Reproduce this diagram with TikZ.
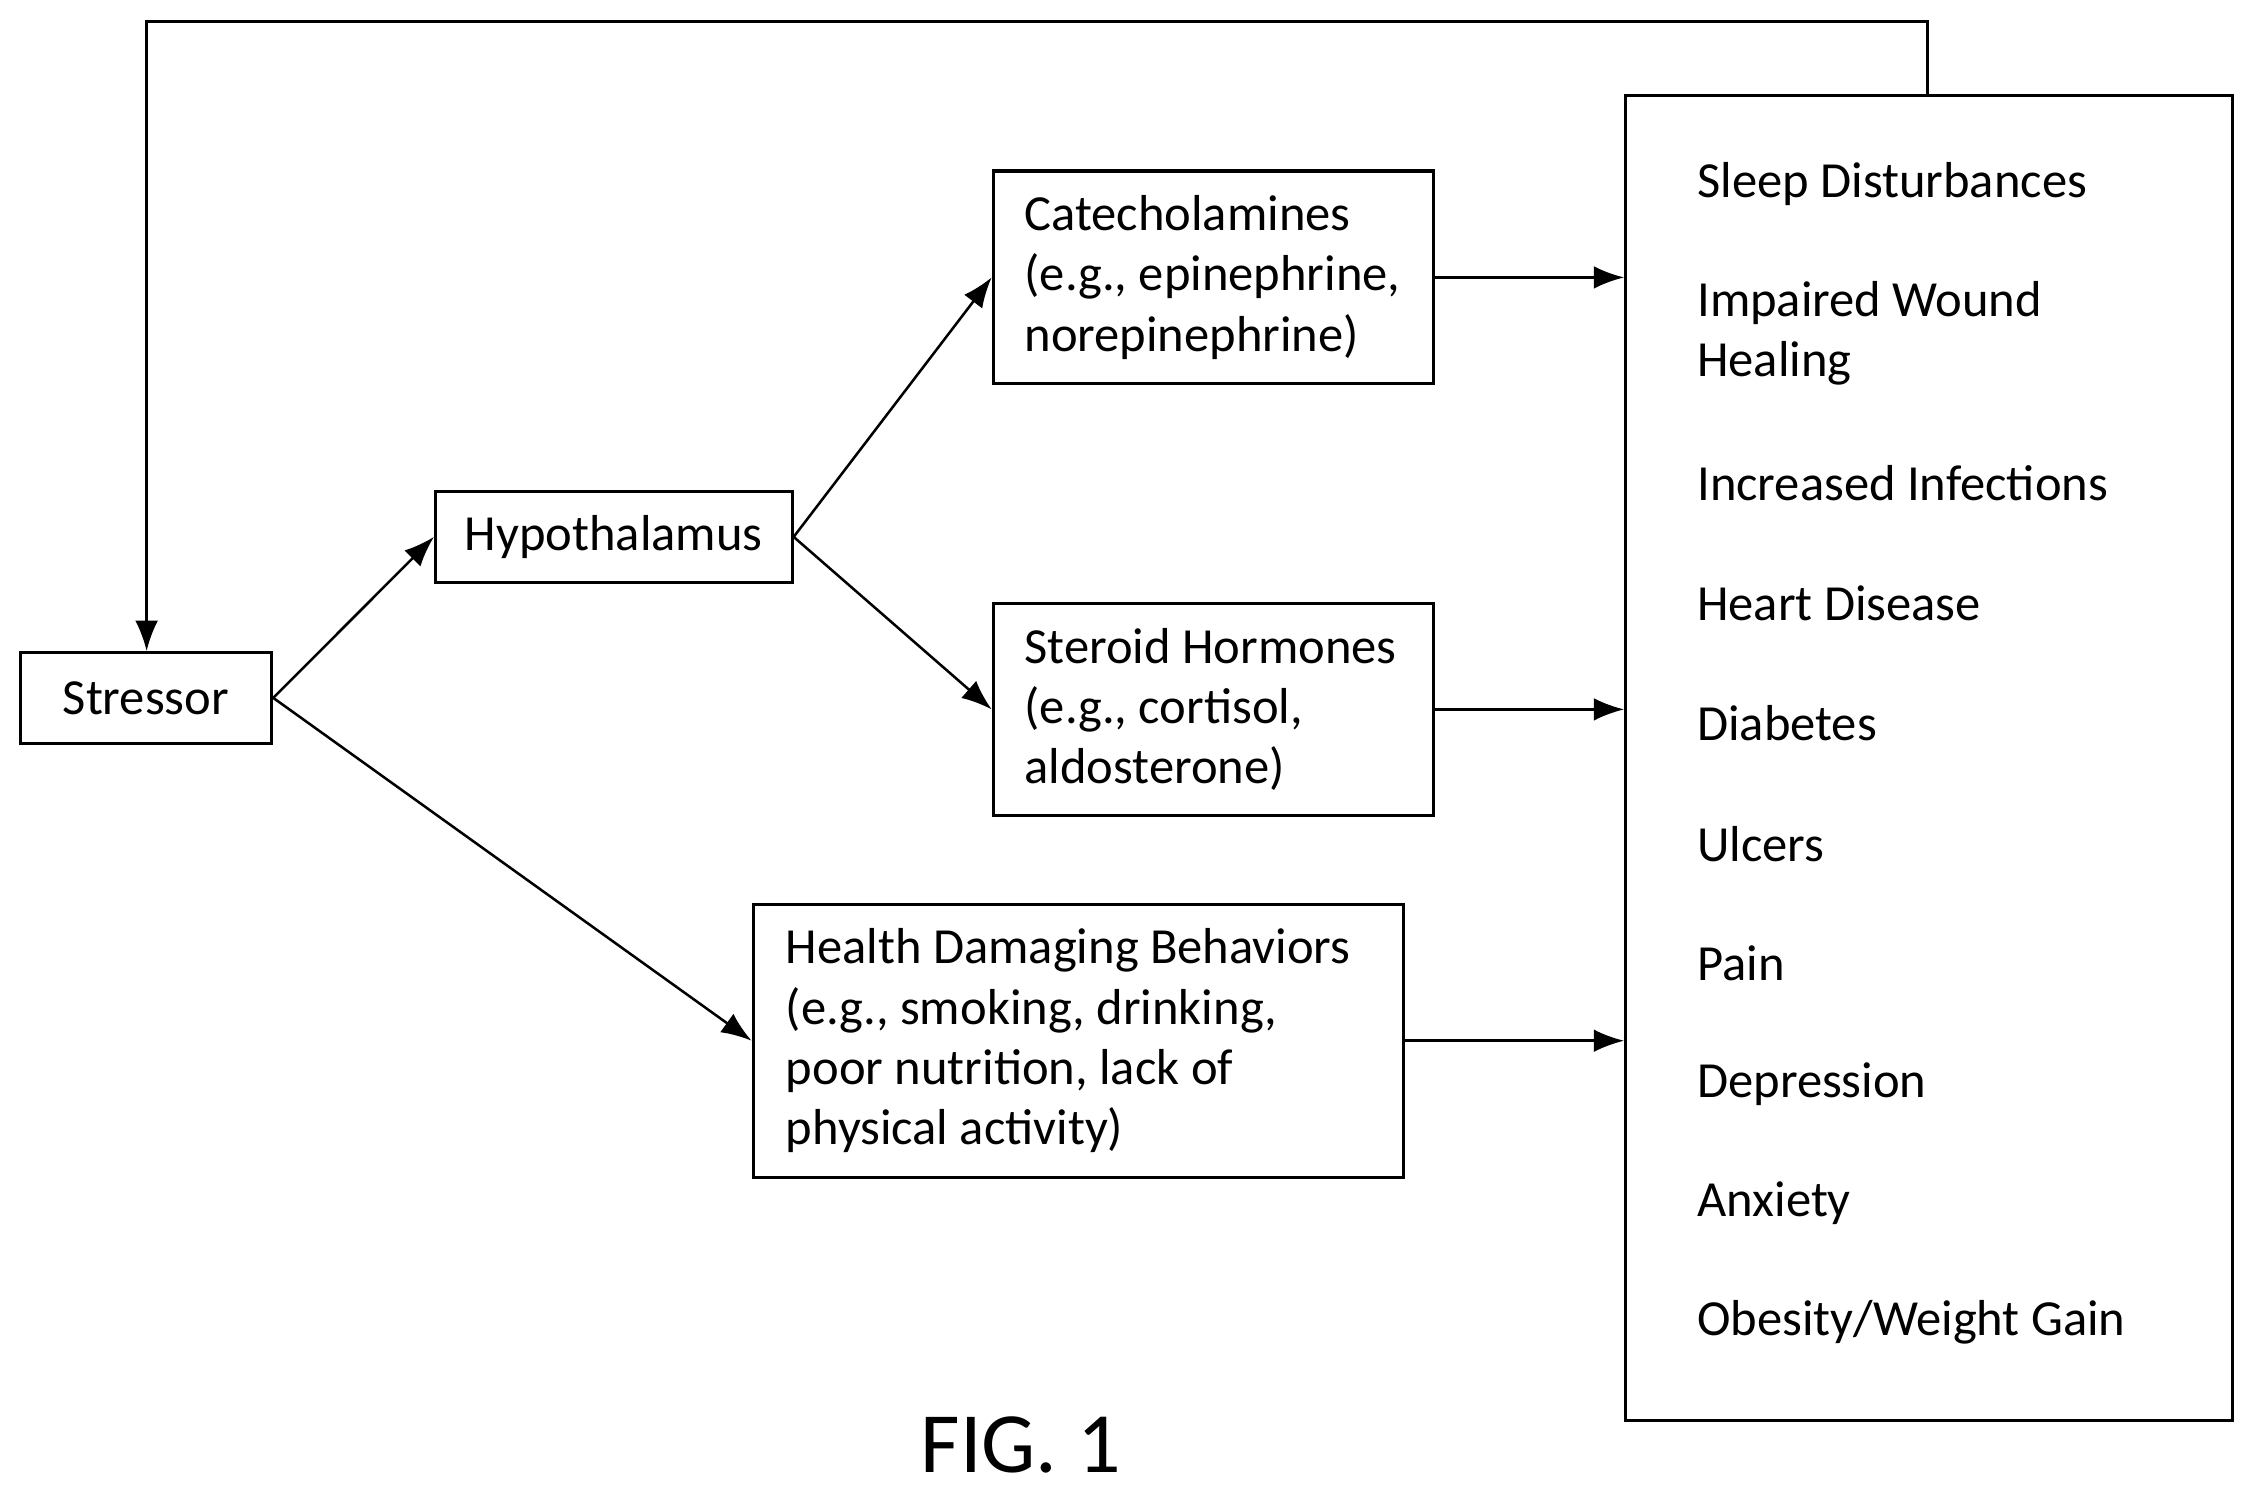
\documentclass[tikz,border=0pt]{standalone}
\usepackage{fontspec}
\setmainfont{Carlito}
\usetikzlibrary{arrows.meta}
\begin{document}
\begin{tikzpicture}[x=0.01cm,y=-0.01cm,
  every node/.style={font=\fontsize{10pt}{11.9pt}\selectfont},
  box/.style={draw,line width=0.6pt,inner sep=0pt},
  lbl/.style={anchor=west,inner sep=0pt,align=left},
  arr/.style={line width=0.5pt,-{Latex[length=6pt,width=4.5pt]}}]
\useasboundingbox (0,0) rectangle (1568,1037);
\node[box,minimum width=175\pgflinewidth,minimum width=1.75cm,minimum height=0.63cm] (st) at (101.5,485.5) {Stressor};
\node[box,minimum width=2.48cm,minimum height=0.63cm] (hy) at (427,373.5) {Hypothalamus};
\node[box,minimum width=3.06cm,minimum height=1.48cm] (ca) at (844,193) {};
\node[lbl] (cat) at (712,193) {Catecholamines\\(e.g., epinephrine,\\norepinephrine)};
\node[box,minimum width=3.06cm,minimum height=1.47cm] (sh) at (844,493.5) {};
\node[lbl] (sht) at (712,493.5) {Steroid Hormones\\(e.g., cortisol,\\aldosterone)};
\node[box,minimum width=4.52cm,minimum height=1.90cm] (hd) at (750,724) {};
\node[lbl] (hdt) at (546,724) {Health Damaging Behaviors\\(e.g., smoking, drinking,\\poor nutrition, lack of\\physical activity)};
\node[box,minimum width=4.22cm,minimum height=9.21cm] (big) at (1342,527.5) {};
\node[lbl] (o1) at (1180,128) {Sleep Disturbances};
\node[lbl] (o2) at (1180,232) {Impaired Wound\\Healing};
\node[lbl] (o3) at (1180,336) {Increased Infections};
\node[lbl] (o4) at (1180,420) {Heart Disease};
\node[lbl] (o5) at (1180,503) {Diabetes};
\node[lbl] (o6) at (1180,587) {Ulcers};
\node[lbl] (o7) at (1180,670) {Pain};
\node[lbl] (o8) at (1180,754) {Depression};
\node[lbl] (o9) at (1180,837) {Anxiety};
\node[lbl] (o10) at (1180,920) {Obesity/Weight Gain};
\node[font=\fontsize{17pt}{20pt}\selectfont] (fig) at (710,1005) {FIG. 1};
\coordinate (c1) at (1341,15);
\coordinate (c2) at (102,15);
\draw[arr] (big.north -| c1) -- (c1) -- (c2) -- (st.north -| c2);
\draw[arr] (st.east) -- (hy.west);
\draw[arr] (st.east) -- (hd.west);
\draw[arr] (hy.east) -- (ca.west);
\draw[arr] (hy.east) -- (sh.west);
\draw[arr] (ca.east) -- (ca.east -| big.west);
\draw[arr] (sh.east) -- (sh.east -| big.west);
\draw[arr] (hd.east) -- (hd.east -| big.west);
\end{tikzpicture}
\end{document}
